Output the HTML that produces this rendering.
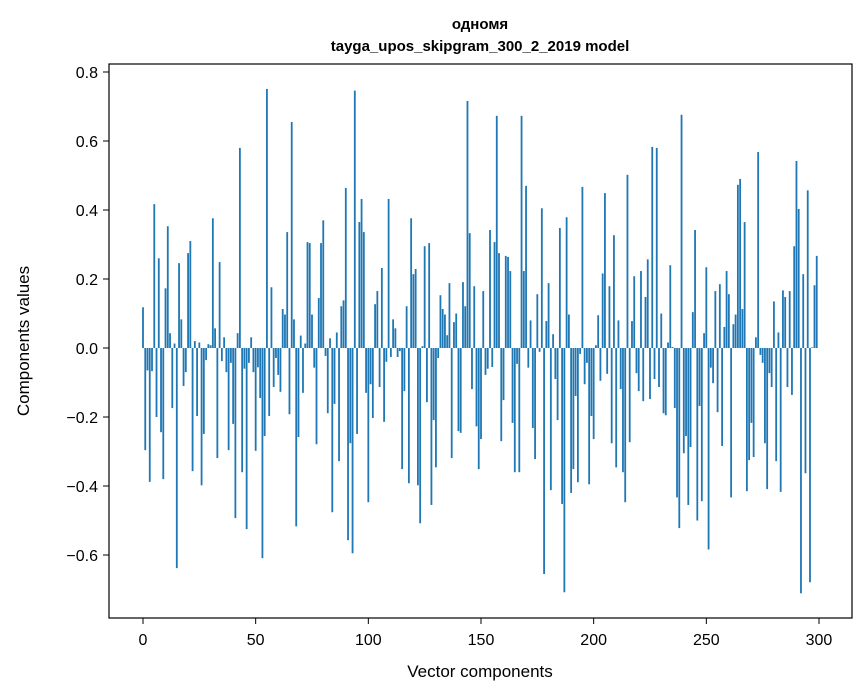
<!DOCTYPE html>
<html><head><meta charset="utf-8"><style>
body{margin:0;background:#fff}
svg{display:block;font-family:"Liberation Sans","DejaVu Sans",sans-serif}
</style></head><body>
<svg id="chart" width="867" height="696">
<rect width="867" height="696" fill="#fff"/>
<text x="480" y="29" text-anchor="middle" font-size="15" font-weight="bold">одномя</text>
<text x="480" y="51" text-anchor="middle" font-size="15" font-weight="bold">tayga_upos_skipgram_300_2_2019 model</text>
<g id="bars"></g>
<g id="xticks"></g>
<g id="yticks"></g>
<rect x="109" y="64" width="743" height="554" fill="none" stroke="#000" stroke-width="1.2"/>
<text x="480" y="677" text-anchor="middle" font-size="17">Vector components</text>
<text transform="translate(29,341) rotate(-90)" text-anchor="middle" font-size="17">Components values</text>
</svg>
<script>
const values=[0.118,-0.296,-0.065,-0.388,-0.067,0.417,-0.2,0.26,-0.244,-0.38,
0.173,0.353,0.043,-0.174,0.013,-0.638,0.246,0.083,-0.11,-0.07,
0.275,0.31,-0.357,0.02,-0.197,0.016,-0.398,-0.249,-0.035,0.011,
0.008,0.376,0.057,-0.319,0.249,-0.038,0.031,-0.07,-0.296,-0.043,
-0.22,-0.493,0.043,0.58,-0.36,-0.06,-0.525,-0.043,0.031,-0.07,
-0.298,-0.056,-0.145,-0.609,-0.255,0.751,-0.197,0.176,-0.113,-0.029,
-0.078,-0.127,0.113,0.097,0.336,-0.192,0.655,0.083,-0.517,-0.258,
0.036,-0.13,0.013,0.307,0.304,0.097,-0.057,-0.279,0.145,0.304,
0.37,-0.023,-0.189,0.028,-0.476,-0.162,0.045,-0.328,0.121,0.138,
0.464,-0.557,-0.276,-0.595,0.746,-0.249,0.365,0.432,0.336,-0.13,
-0.447,-0.105,-0.203,0.127,0.165,-0.113,0.232,-0.214,-0.04,0.432,
-0.026,0.083,0.057,-0.026,-0.009,-0.351,-0.125,0.121,-0.392,0.376,
0.214,0.229,-0.398,-0.508,0.005,0.295,-0.157,0.304,-0.455,-0.209,
-0.346,-0.029,0.153,0.113,0.097,0.037,0.188,-0.319,0.075,0.1,
-0.241,-0.246,0.191,0.121,0.716,0.333,-0.119,0.179,-0.227,-0.351,
-0.264,0.165,-0.078,-0.06,0.342,-0.055,0.307,0.673,0.275,-0.27,
-0.151,0.267,0.264,0.223,-0.217,-0.36,-0.046,-0.36,0.673,0.223,
0.47,-0.057,0.08,-0.232,-0.322,0.156,-0.011,0.405,-0.655,0.078,
0.188,-0.412,0.04,-0.09,-0.209,0.348,-0.452,-0.708,0.379,0.097,
-0.42,-0.351,-0.139,-0.389,-0.017,0.467,-0.105,-0.043,-0.395,-0.197,
-0.264,0.008,0.095,-0.095,0.216,0.449,-0.075,0.179,-0.276,0.327,
-0.346,0.08,-0.119,-0.36,-0.447,0.502,-0.273,0.078,0.208,-0.073,
-0.125,0.223,-0.154,0.148,0.257,-0.148,0.583,-0.09,0.58,-0.113,
0.1,-0.189,-0.195,0.016,0.24,0.003,-0.174,-0.433,-0.522,0.676,
-0.305,-0.255,-0.455,-0.287,0.104,0.342,-0.5,-0.168,-0.444,0.043,
0.234,-0.584,-0.057,-0.102,0.165,-0.186,0.185,-0.284,0.061,0.223,
0.156,-0.433,0.069,0.097,0.473,0.49,0.113,0.365,-0.415,-0.325,
-0.217,-0.316,0.031,0.568,-0.02,-0.043,-0.276,-0.409,-0.073,-0.113,
0.135,-0.328,0.045,-0.417,0.167,0.148,-0.113,0.165,-0.136,0.295,
0.542,0.403,-0.711,0.214,-0.363,0.457,-0.679,0.002,0.182,0.267];
const xTicks=[0,50,100,150,200,250,300];
const yTicks=[-0.6,-0.4,-0.2,0.0,0.2,0.4,0.6,0.8];
const NS="http://www.w3.org/2000/svg";
function xs(v){return 143+2.2533*v;}
function ys(v){return 348-345*v;}
const bars=document.getElementById('bars');
values.forEach((v,i)=>{
  const r=document.createElementNS(NS,'rect');
  const y0=ys(Math.max(v,0)),y1=ys(Math.min(v,0));
  r.setAttribute('x',xs(i-0.4));r.setAttribute('width',2.2533*0.8);
  r.setAttribute('y',y0);r.setAttribute('height',Math.max(y1-y0,0.3));
  r.setAttribute('fill','#1f77b4');
  
  
  bars.appendChild(r);
});
const xg=document.getElementById('xticks');
xTicks.forEach(t=>{
  const l=document.createElementNS(NS,'line');
  l.setAttribute('x1',xs(t));l.setAttribute('x2',xs(t));l.setAttribute('y1',618);l.setAttribute('y2',624);l.setAttribute('stroke','#000');
  
  
  xg.appendChild(l);
  const tx=document.createElementNS(NS,'text');
  tx.setAttribute('x',xs(t));tx.setAttribute('y',645);tx.setAttribute('text-anchor','middle');tx.setAttribute('font-size','16');
  tx.textContent=t;
  
  
  xg.appendChild(tx);
});
const yg=document.getElementById('yticks');
yTicks.forEach(t=>{
  const l=document.createElementNS(NS,'line');
  l.setAttribute('x1',103);l.setAttribute('x2',109);l.setAttribute('y1',ys(t));l.setAttribute('y2',ys(t));l.setAttribute('stroke','#000');
  
  
  yg.appendChild(l);
  const tx=document.createElementNS(NS,'text');
  tx.setAttribute('x',98);tx.setAttribute('y',ys(t)+6);tx.setAttribute('text-anchor','end');tx.setAttribute('font-size','16');
  tx.textContent=(t<0?'\u2212':'')+Math.abs(t).toFixed(1);
  
  
  yg.appendChild(tx);
});
</script>
</body></html>
